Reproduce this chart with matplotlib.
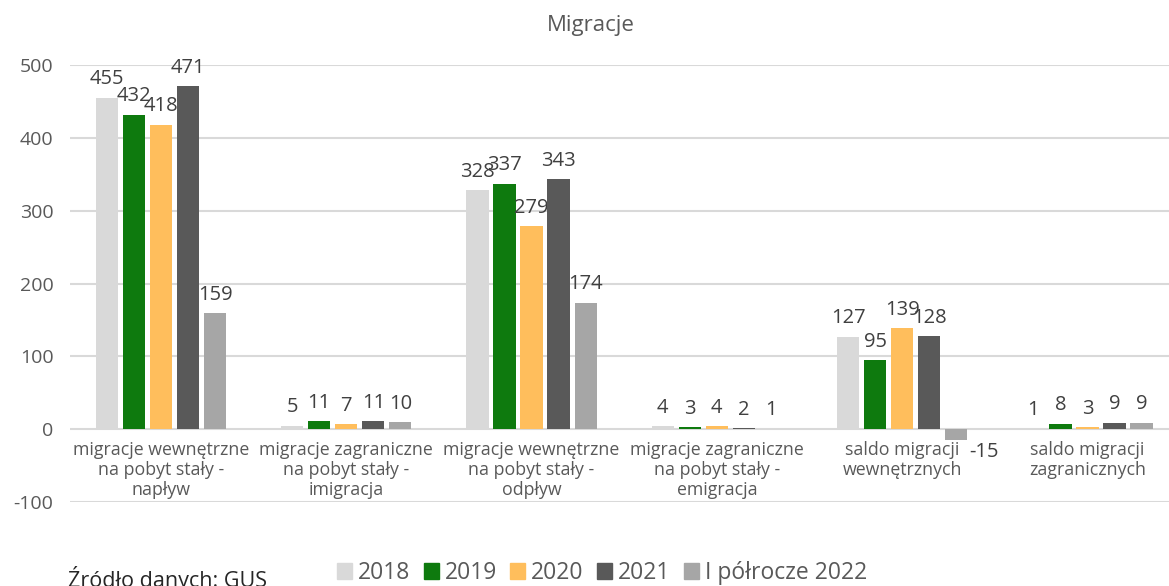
import numpy as np
import matplotlib.pyplot as plt
from matplotlib.patches import Patch

plt.rcParams['font.family'] = ['Open Sans', 'DejaVu Sans']
plt.rcParams['axes.unicode_minus'] = False

# Dane
kategorie = [
    'migracje wewnętrzne\nna pobyt stały -\nnapływ',
    'migracje zagraniczne\nna pobyt stały -\nimigracja',
    'migracje wewnętrzne\nna pobyt stały -\nodpływ',
    'migracje zagraniczne\nna pobyt stały -\nemigracja',
    'saldo migracji\nwewnętrznych',
    'saldo migracji\nzagranicznych',
]
serie = ['2018', '2019', '2020', '2021', 'I półrocze 2022']
w2018 = [455, 5, 328, 4, 127, 1]
w2019 = [432, 11, 337, 3, 95, 8]
w2020 = [418, 7, 279, 4, 139, 3]
w2021 = [471, 11, 343, 2, 128, 9]
w2022 = [159, 10, 174, 1, -15, 9]
wartosci = [w2018, w2019, w2020, w2021, w2022]
kolory = ['#D9D9D9', '#0E7A0E', '#FFBE5C', '#595959', '#A6A6A6']

szary = '#595959'

fig = plt.figure(figsize=(11.69, 5.86), dpi=100)
ax = fig.add_axes([0.06, 0.143, 0.94, 0.746])

x = np.arange(len(kategorie))
szer = 0.12
krok = 0.146

for i, (nazwa, vals, kol) in enumerate(zip(serie, wartosci, kolory)):
    pos = x + (i - 2) * krok
    ax.bar(pos, vals, width=szer, color=kol, zorder=3)
    for px, v in zip(pos, vals):
        if v >= 0:
            ax.annotate(str(v), (px, v), xytext=(0, 6), textcoords='offset points',
                        ha='center', va='bottom', fontsize=14.5, color='#404040')
        else:
            ax.annotate(str(v), (px + szer / 2, v), xytext=(1, -1), textcoords='offset points',
                        ha='left', va='top', fontsize=14.5, color='#404040')

# Podpisy kategorii
for i, k in enumerate(kategorie):
    ax.text(i, -16, k, ha='center', va='top', fontsize=12.8, color=szary,
            linespacing=1.15)

ax.set_ylim(-100, 500)
ax.set_xlim(-0.49, 5.44)
ax.set_yticks(range(-100, 501, 100))
ax.set_xticks([])
ax.tick_params(axis='y', length=0, labelsize=14, labelcolor=szary, pad=12)
ax.grid(axis='y', color='#D9D9D9', linewidth=1.5, zorder=0)
for s in ax.spines.values():
    s.set_visible(False)

fig.text(0.505, 0.957, 'Migracje', ha='center', va='center', fontsize=16, color=szary)
fig.text(0.058, 0.012, 'Źródło danych: GUS', ha='left', va='center', fontsize=15.5, color='#262626')

uchwyty = [Patch(color=k, label=s) for s, k in zip(serie, kolory)]
fig.legend(handles=uchwyty, loc='center', bbox_to_anchor=(0.515, 0.022), ncol=5,
           frameon=False, fontsize=16.5, handlelength=0.65, handleheight=0.65,
           handletextpad=0.25, columnspacing=0.6, labelcolor=szary)

fig.savefig('out.png', dpi=100)
